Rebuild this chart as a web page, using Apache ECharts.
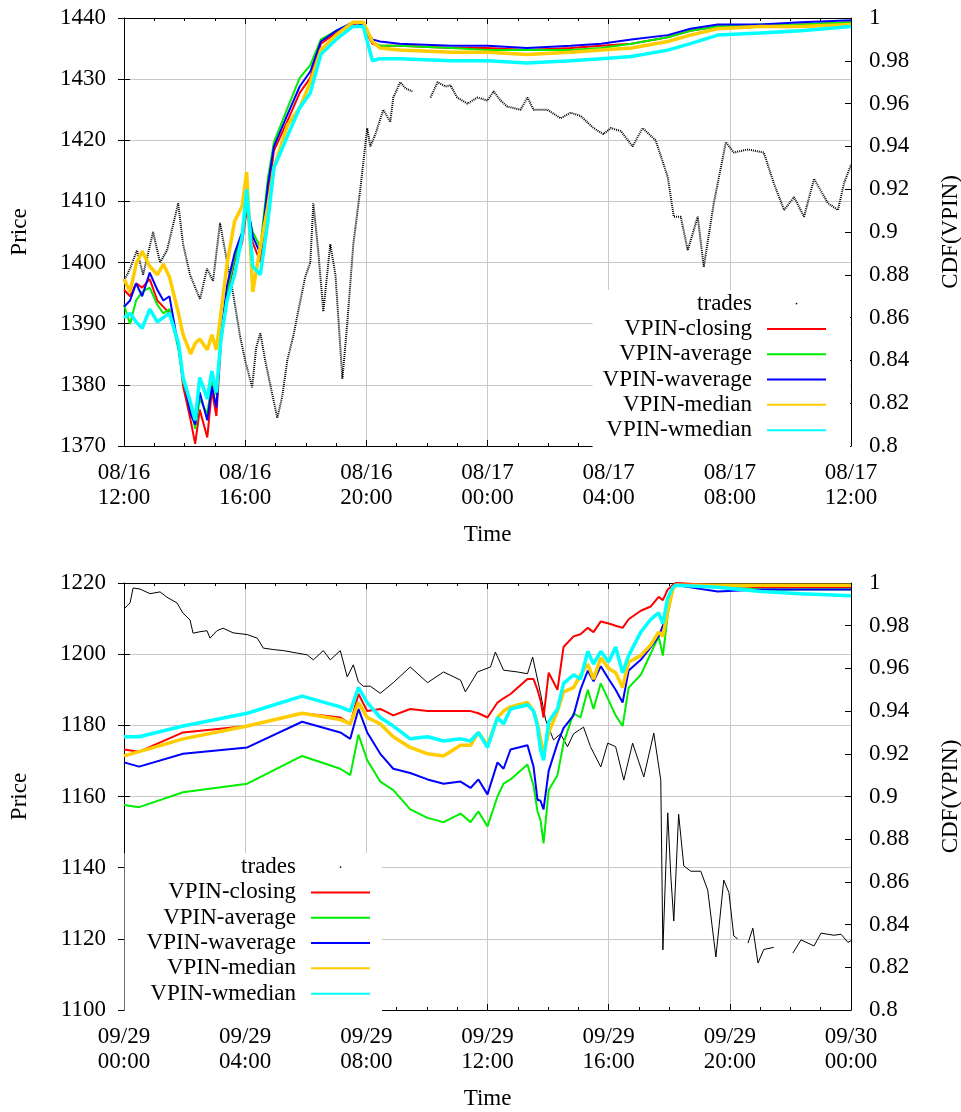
<!DOCTYPE html>
<html>
<head>
<meta charset="utf-8">
<title>VPIN and trade prices</title>
<script src="https://cdn.jsdelivr.net/npm/echarts@6/dist/echarts.min.js"></script>
<style>
  html, body { margin: 0; padding: 0; background: #fff; overflow: hidden; }
  #chart { width: 961px; height: 1112px; }
</style>
</head>
<body>
<div id="chart"></div>
<script>
// ---------- Tick labels ----------
const topTickLabels = ['08/16\n12:00', '08/16\n16:00', '08/16\n20:00', '08/17\n00:00', '08/17\n04:00', '08/17\n08:00', '08/17\n12:00'];
const bottomTickLabels = ['09/29\n00:00', '09/29\n04:00', '09/29\n08:00', '09/29\n12:00', '09/29\n16:00', '09/29\n20:00', '09/30\n00:00'];

// ---------- Panel 1: 08/16 12:00 - 08/17 12:00 (hours since start) ----------
const tradesTopHours = [0, 0.2, 0.43, 0.63, 0.96, 1.19, 1.42, 1.79, 1.95, 2.18, 2.51, 2.74, 2.94, 3.17, 3.37, 3.6, 3.83, 4.0, 4.23, 4.36, 4.5, 4.66, 4.83, 5.06, 5.22, 5.39, 5.59, 5.75, 5.98, 6.15, 6.25, 6.41, 6.58, 6.81, 6.98, 7.21, 7.37, 7.57, 7.8, 8.03, 8.13, 8.3, 8.56, 8.79, 8.89, 9.12, 9.29, 9.52, 9.8, 10.12, 10.35, 10.61, 10.78, 11.0, 11.34, 11.67, 12.0, 12.2, 12.43, 12.66, 13.09, 13.32, 13.52, 13.98, 14.41, 14.74, 15.07, 15.5, 15.83, 16.07, 16.4, 16.79, 17.12, 17.55, 17.95, 18.15, 18.38, 18.61, 18.94, 19.14, 19.47, 19.87, 20.13, 20.6, 21.12, 21.45, 21.79, 22.12, 22.45, 22.78, 23.24, 23.57, 23.77, 24];
const tradesTopPrice = [1397, 1399, 1402, 1398, 1405, 1400, 1402, 1409.7, 1403, 1398, 1394, 1399, 1397, 1406.5, 1401, 1395, 1388, 1384, 1379.6, 1386, 1388.5, 1384, 1380, 1374.6, 1378, 1384, 1388, 1392, 1397.6, 1400, 1409.7, 1402, 1392, 1403, 1398, 1381, 1390, 1403, 1412, 1422, 1419, 1421, 1425, 1423, 1427, 1429.5, 1428.5, 1428, null, 1427, 1429.5, 1428.8, 1429, 1427, 1426, 1427, 1426.5, 1428, 1426.5, 1425.5, 1425, 1427, 1425, 1425, 1423.6, 1424.5, 1424, 1422, 1421, 1422, 1421.5, 1419, 1422, 1420, 1414, 1407.5, 1407.5, 1402, 1407.5, 1399.3, 1409.7, 1419.7, 1418, 1418.5, 1418, 1413, 1408.6, 1410.7, 1407.5, 1413.7, 1409.7, 1408.6, 1413, 1416];

const vpinTopHours = [0, 0.2, 0.4, 0.6, 0.85, 1.1, 1.3, 1.5, 1.8, 1.95, 2.2, 2.35, 2.5, 2.75, 2.9, 3.05, 3.2, 3.4, 3.65, 3.9, 4.05, 4.25, 4.5, 4.75, 4.95, 5.4, 5.8, 6.15, 6.5, 7.0, 7.55, 7.9, 8.2, 8.45, 9.1, 10.8, 12, 13.3, 14.75, 15.75, 16.75, 17.95, 18.7, 19.6, 21, 22.35, 24];
const closingTop = [0.873, 0.870, 0.876, 0.874, 0.878, 0.868, 0.865, 0.862, 0.848, 0.828, 0.812, 0.801, 0.817, 0.804, 0.826, 0.814, 0.848, 0.870, 0.886, 0.895, 0.910, 0.895, 0.886, 0.916, 0.938, 0.952, 0.965, 0.972, 0.988, 0.993, 0.997, 0.996, 0.988, 0.987, 0.987, 0.986, 0.986, 0.985, 0.986, 0.987, 0.988, 0.991, 0.994, 0.996, 0.996, 0.997, 0.998];
const averageTop = [0.866, 0.857, 0.868, 0.872, 0.874, 0.866, 0.862, 0.864, 0.845, 0.830, 0.818, 0.808, 0.822, 0.815, 0.830, 0.824, 0.850, 0.872, 0.888, 0.898, 0.912, 0.900, 0.893, 0.925, 0.942, 0.958, 0.972, 0.978, 0.990, 0.994, 0.998, 0.997, 0.989, 0.987, 0.987, 0.986, 0.985, 0.985, 0.985, 0.986, 0.988, 0.991, 0.994, 0.996, 0.997, 0.997, 0.998];
const waverageTop = [0.865, 0.868, 0.876, 0.870, 0.881, 0.873, 0.868, 0.870, 0.846, 0.832, 0.815, 0.810, 0.825, 0.812, 0.828, 0.818, 0.852, 0.875, 0.890, 0.900, 0.915, 0.898, 0.890, 0.922, 0.940, 0.955, 0.968, 0.975, 0.989, 0.994, 0.998, 0.997, 0.990, 0.989, 0.988, 0.987, 0.987, 0.986, 0.987, 0.988, 0.990, 0.992, 0.995, 0.997, 0.997, 0.998, 0.999];
const medianTop = [0.878, 0.872, 0.885, 0.891, 0.884, 0.880, 0.885, 0.879, 0.862, 0.852, 0.843, 0.848, 0.850, 0.845, 0.852, 0.845, 0.862, 0.885, 0.905, 0.912, 0.928, 0.872, 0.893, 0.912, 0.930, 0.950, 0.958, 0.970, 0.985, 0.992, 0.998, 0.998, 0.989, 0.986, 0.985, 0.984, 0.984, 0.983, 0.984, 0.985, 0.986, 0.989, 0.992, 0.995, 0.996, 0.996, 0.997];
const wmedianTop = [0.860, 0.862, 0.858, 0.855, 0.864, 0.858, 0.860, 0.862, 0.848, 0.832, 0.820, 0.812, 0.832, 0.822, 0.835, 0.825, 0.850, 0.868, 0.880, 0.898, 0.920, 0.884, 0.880, 0.905, 0.930, 0.945, 0.958, 0.965, 0.983, 0.990, 0.996, 0.996, 0.980, 0.981, 0.981, 0.980, 0.980, 0.979, 0.980, 0.981, 0.982, 0.985, 0.988, 0.992, 0.993, 0.994, 0.996];

// ---------- Panel 2: 09/29 00:00 - 09/30 00:00 (hours since start) ----------
const tradesBottomHours = [0.03, 0.2, 0.3, 0.53, 0.86, 1.19, 1.42, 1.75, 1.95, 2.18, 2.28, 2.51, 2.74, 2.84, 3.07, 3.27, 3.6, 4.07, 4.4, 4.6, 4.93, 5.26, 5.72, 6.05, 6.25, 6.58, 6.81, 7.14, 7.37, 7.57, 7.74, 7.9, 8.13, 8.46, 8.89, 9.45, 10.02, 10.55, 11.11, 11.27, 11.67, 12.1, 12.26, 12.53, 12.99, 13.32, 13.49, 13.75, 13.92, 14.18, 14.41, 14.64, 14.84, 15.17, 15.4, 15.74, 15.97, 16.23, 16.5, 16.79, 17.16, 17.49, 17.72, 17.79, 17.95, 18.05, 18.15, 18.31, 18.48, 18.71, 19.04, 19.27, 19.54, 19.8, 19.97, 20.13, 20.26, 20.43, 20.6, 20.76, 20.93, 21.12, 21.45, 21.75, 22.08, 22.35, 22.78, 23.01, 23.44, 23.67, 23.9, 24];
const tradesBottomPrice = [1213, 1214.4, 1218.6, 1218.3, 1217, 1217.5, 1216, 1214.4, 1211.5, 1209.6, 1205.9, 1206.3, 1206.6, 1204.5, 1206.6, 1207.3, 1206, 1205.5, 1204.5, 1201.7, 1201.3, 1201, 1200.3, 1199.8, 1198.4, 1201, 1198.4, 1201, 1193.6, 1197, 1192.2, 1191, 1191, 1189, 1192, 1196.4, 1192, 1195, 1192.7, 1189.4, 1195, 1196.4, 1200.6, 1195.5, 1195, 1194.5, 1199.2, 1189, 1181.5, 1175.9, 1177.6, 1174, 1177.6, 1179.5, 1174, 1168.3, 1175, 1174, 1164.6, 1175, 1165.5, 1177.8, 1164.6, 1116.9, 1155.4, 1138, 1125, 1155, 1140.5, 1139, 1139, 1133.7, 1114.9, 1136.5, 1133, 1120.8, 1120, null, 1118.8, 1123, 1113.2, 1117, 1117.6, null, 1116, 1119.7, 1118, 1121.6, 1121, 1121.3, 1119, 1119.5];

const vpinBottomHours = [0, 0.5, 1.95, 4.07, 5.88, 7.14, 7.47, 7.74, 8.03, 8.46, 8.89, 9.45, 10.02, 10.55, 11.11, 11.44, 11.7, 12.0, 12.33, 12.53, 12.76, 13.32, 13.52, 13.65, 13.75, 13.85, 14.02, 14.31, 14.51, 14.84, 15.07, 15.31, 15.5, 15.74, 16.0, 16.23, 16.46, 16.66, 17.06, 17.39, 17.65, 17.79, 17.95, 18.12, 18.21, 19.6, 21.02, 22.35, 24];
const closingBottom = [0.922, 0.921, 0.930, 0.933, 0.939, 0.937, 0.934, 0.948, 0.940, 0.941, 0.938, 0.941, 0.940, 0.940, 0.940, 0.940, 0.939, 0.937, 0.944, 0.946, 0.948, 0.955, 0.955, 0.950, 0.945, 0.937, 0.958, 0.950, 0.970, 0.975, 0.976, 0.979, 0.977, 0.982, 0.981, 0.980, 0.979, 0.983, 0.987, 0.989, 0.9935, 0.992, 0.997, 0.999, 1.0, 0.999, 0.998, 0.998, 0.998];
const averageBottom = [0.896, 0.895, 0.902, 0.906, 0.919, 0.913, 0.910, 0.929, 0.917, 0.907, 0.903, 0.894, 0.890, 0.888, 0.892, 0.888, 0.893, 0.886, 0.900, 0.906, 0.908, 0.915, 0.905, 0.893, 0.889, 0.878, 0.903, 0.910, 0.925, 0.939, 0.937, 0.950, 0.941, 0.953, 0.945, 0.938, 0.933, 0.951, 0.957, 0.967, 0.975, 0.966, 0.985, 0.997, 0.999, 0.998, 0.997, 0.997, 0.997];
const waverageBottom = [0.916, 0.914, 0.920, 0.923, 0.935, 0.930, 0.927, 0.941, 0.930, 0.920, 0.913, 0.911, 0.908, 0.906, 0.907, 0.904, 0.908, 0.901, 0.916, 0.913, 0.922, 0.924, 0.914, 0.8985, 0.898, 0.894, 0.912, 0.925, 0.932, 0.938, 0.950, 0.959, 0.954, 0.961, 0.955, 0.950, 0.944, 0.959, 0.964, 0.970, 0.975, 0.980, 0.987, 0.997, 0.999, 0.996, 0.997, 0.997, 0.997];
const medianBottom = [0.919, 0.921, 0.927, 0.933, 0.939, 0.936, 0.934, 0.944, 0.937, 0.934, 0.928, 0.923, 0.920, 0.919, 0.924, 0.924, 0.930, 0.924, 0.937, 0.940, 0.942, 0.944, 0.940, 0.934, 0.927, 0.920, 0.930, 0.940, 0.949, 0.951, 0.957, 0.962, 0.955, 0.965, 0.960, 0.958, 0.951, 0.963, 0.966, 0.971, 0.977, 0.975, 0.987, 0.997, 0.999, 0.999, 0.999, 0.999, 0.999];
const wmedianBottom = [0.928, 0.928, 0.933, 0.939, 0.947, 0.942, 0.940, 0.951, 0.944, 0.937, 0.933, 0.927, 0.928, 0.926, 0.927, 0.926, 0.930, 0.923, 0.937, 0.934, 0.941, 0.943, 0.940, 0.933, 0.922, 0.917, 0.935, 0.941, 0.953, 0.957, 0.955, 0.968, 0.962, 0.968, 0.963, 0.970, 0.958, 0.966, 0.977, 0.983, 0.986, 0.981, 0.993, 0.998, 0.999, 0.998, 0.996, 0.995, 0.994];

// ---------- Styling ----------
const FONT = "'Liberation Serif', 'Times New Roman', serif";
const TEXT = { fontFamily: FONT, fontSize: 23, color: '#000' };
const GRID_COLOR = '#c8c8c8';
const vpinNames = ['VPIN-closing', 'VPIN-average', 'VPIN-waverage', 'VPIN-median', 'VPIN-wmedian'];
const vpinColors = ['#ff0000', '#00ee00', '#0000ff', '#ffcc00', '#00ffff'];
const vpinWidths = [2, 2, 2, 3.5, 3.5];

const pairs = (xs, ys) => xs.map((x, i) => [x, ys[i]]);
const plain = v => String(v);

function timeAxes(gridIndex, labels) {
  return [
    {
      type: 'value', gridIndex, position: 'bottom', min: 0, max: 24, interval: 4,
      axisLine: { show: true, onZero: false, lineStyle: { color: '#000', width: 1 } },
      axisTick: { show: true, inside: true, length: 6, lineStyle: { color: '#000' } },
      minorTick: { show: true, splitNumber: 4, length: 3, lineStyle: { color: '#000' } },
      splitLine: { show: true, lineStyle: { color: GRID_COLOR, width: 1 } },
      axisLabel: { ...TEXT, margin: 14, lineHeight: 25, formatter: v => labels[Math.round(v / 4)] },
      name: 'Time', nameLocation: 'middle', nameGap: 77, nameTextStyle: { ...TEXT }
    },
    {
      type: 'value', gridIndex, position: 'top', min: 0, max: 24, interval: 4,
      axisLine: { show: true, onZero: false, lineStyle: { color: '#000', width: 1 } },
      axisTick: { show: true, inside: true, length: 6, lineStyle: { color: '#000' } },
      minorTick: { show: true, splitNumber: 4, length: 3, lineStyle: { color: '#000' } },
      splitLine: { show: false },
      axisLabel: { show: false }
    }
  ];
}

function priceAxis(gridIndex, min, max, interval) {
  return {
    type: 'value', gridIndex, position: 'left', min, max, interval,
    axisLine: { show: true, onZero: false, lineStyle: { color: '#000', width: 1 } },
    axisTick: { show: true, inside: true, length: 6, lineStyle: { color: '#000' } },
    splitLine: { show: true, lineStyle: { color: GRID_COLOR, width: 1 } },
    axisLabel: { ...TEXT, margin: 18, formatter: plain },
    name: 'Price', nameLocation: 'middle', nameGap: 93, nameRotate: 90, nameTextStyle: { ...TEXT }
  };
}

// Price ticks repeated on the right-hand border of each panel
function priceMirror(gridIndex, min, max, interval) {
  return {
    type: 'value', gridIndex, position: 'right', min, max, interval,
    axisLine: { show: false },
    axisTick: { show: true, inside: true, length: 6, lineStyle: { color: '#000' } },
    splitLine: { show: false },
    axisLabel: { show: false }
  };
}

function cdfAxis(gridIndex) {
  return {
    type: 'value', gridIndex, position: 'right', min: 0.8, max: 1, interval: 0.02,
    axisLine: { show: true, onZero: false, lineStyle: { color: '#000', width: 1 } },
    axisTick: { show: true, inside: true, length: 6, lineStyle: { color: '#000' } },
    splitLine: { show: false },
    axisLabel: { ...TEXT, margin: 18, formatter: plain },
    name: 'CDF(VPIN)', nameLocation: 'middle', nameGap: 88, nameRotate: 90, nameTextStyle: { ...TEXT }
  };
}

function legendFor(pos) {
  return {
    orient: 'vertical', align: 'right', selectedMode: false,
    right: pos.right, top: pos.top, padding: pos.padding,
    backgroundColor: '#fff', itemWidth: 59, itemHeight: 2, itemGap: 0,
    itemStyle: { opacity: 0 },
    textStyle: { ...TEXT, lineHeight: 25.3, padding: [0, 10, 0, 0] },
    data: [{ name: 'trades', itemStyle: { opacity: 1, color: '#000' }, lineStyle: { opacity: 0 } }].concat(vpinNames)
  };
}

function panelSeries(axisIdx, tradeHours, tradePrice, vpinHours, vpinSets, dotted) {
  const list = [{
    name: 'trades', type: 'line', xAxisIndex: axisIdx.x, yAxisIndex: axisIdx.price,
    data: pairs(tradeHours, tradePrice), showSymbol: false, symbol: 'circle', symbolSize: 2,
    connectNulls: false, animation: false, z: 2,
    lineStyle: dotted ? { color: '#000', width: 2, type: [1, 1] } : { color: '#000', width: 1 },
    itemStyle: { color: '#000' }
  }];
  vpinSets.forEach((vals, i) => {
    list.push({
      name: vpinNames[i], type: 'line', xAxisIndex: axisIdx.x, yAxisIndex: axisIdx.cdf,
      data: pairs(vpinHours, vals), showSymbol: false, symbol: 'circle', symbolSize: 2,
      animation: false, z: 3 + i,
      lineStyle: { color: vpinColors[i], width: vpinWidths[i] },
      itemStyle: { color: vpinColors[i] }
    });
  });
  return list;
}

const chart = echarts.init(document.getElementById('chart'), null, { renderer: 'canvas' });
chart.setOption({
  backgroundColor: '#fff',
  animation: false,
  grid: [
    { left: 124, right: 110, top: 18, height: 428, outerBoundsMode: 'none', containLabel: false },
    { left: 124, right: 110, top: 583, height: 427, outerBoundsMode: 'none', containLabel: false }
  ],
  xAxis: [...timeAxes(0, topTickLabels), ...timeAxes(1, bottomTickLabels)],
  yAxis: [
    priceAxis(0, 1370, 1440, 10), cdfAxis(0),
    priceAxis(1, 1100, 1220, 20), cdfAxis(1),
    priceMirror(0, 1370, 1440, 10), priceMirror(1, 1100, 1220, 20)
  ],
  legend: [
    legendFor({ right: 111, top: 290, padding: [1, 23, 5, 10] }),
    legendFor({ right: 579, top: 853, padding: [1.5, 11, 5, 22] })
  ],
  series: [
    ...panelSeries({ x: 0, price: 0, cdf: 1 }, tradesTopHours, tradesTopPrice, vpinTopHours,
      [closingTop, averageTop, waverageTop, medianTop, wmedianTop], true),
    ...panelSeries({ x: 2, price: 2, cdf: 3 }, tradesBottomHours, tradesBottomPrice, vpinBottomHours,
      [closingBottom, averageBottom, waverageBottom, medianBottom, wmedianBottom], false)
  ]
});
</script>
</body>
</html>
